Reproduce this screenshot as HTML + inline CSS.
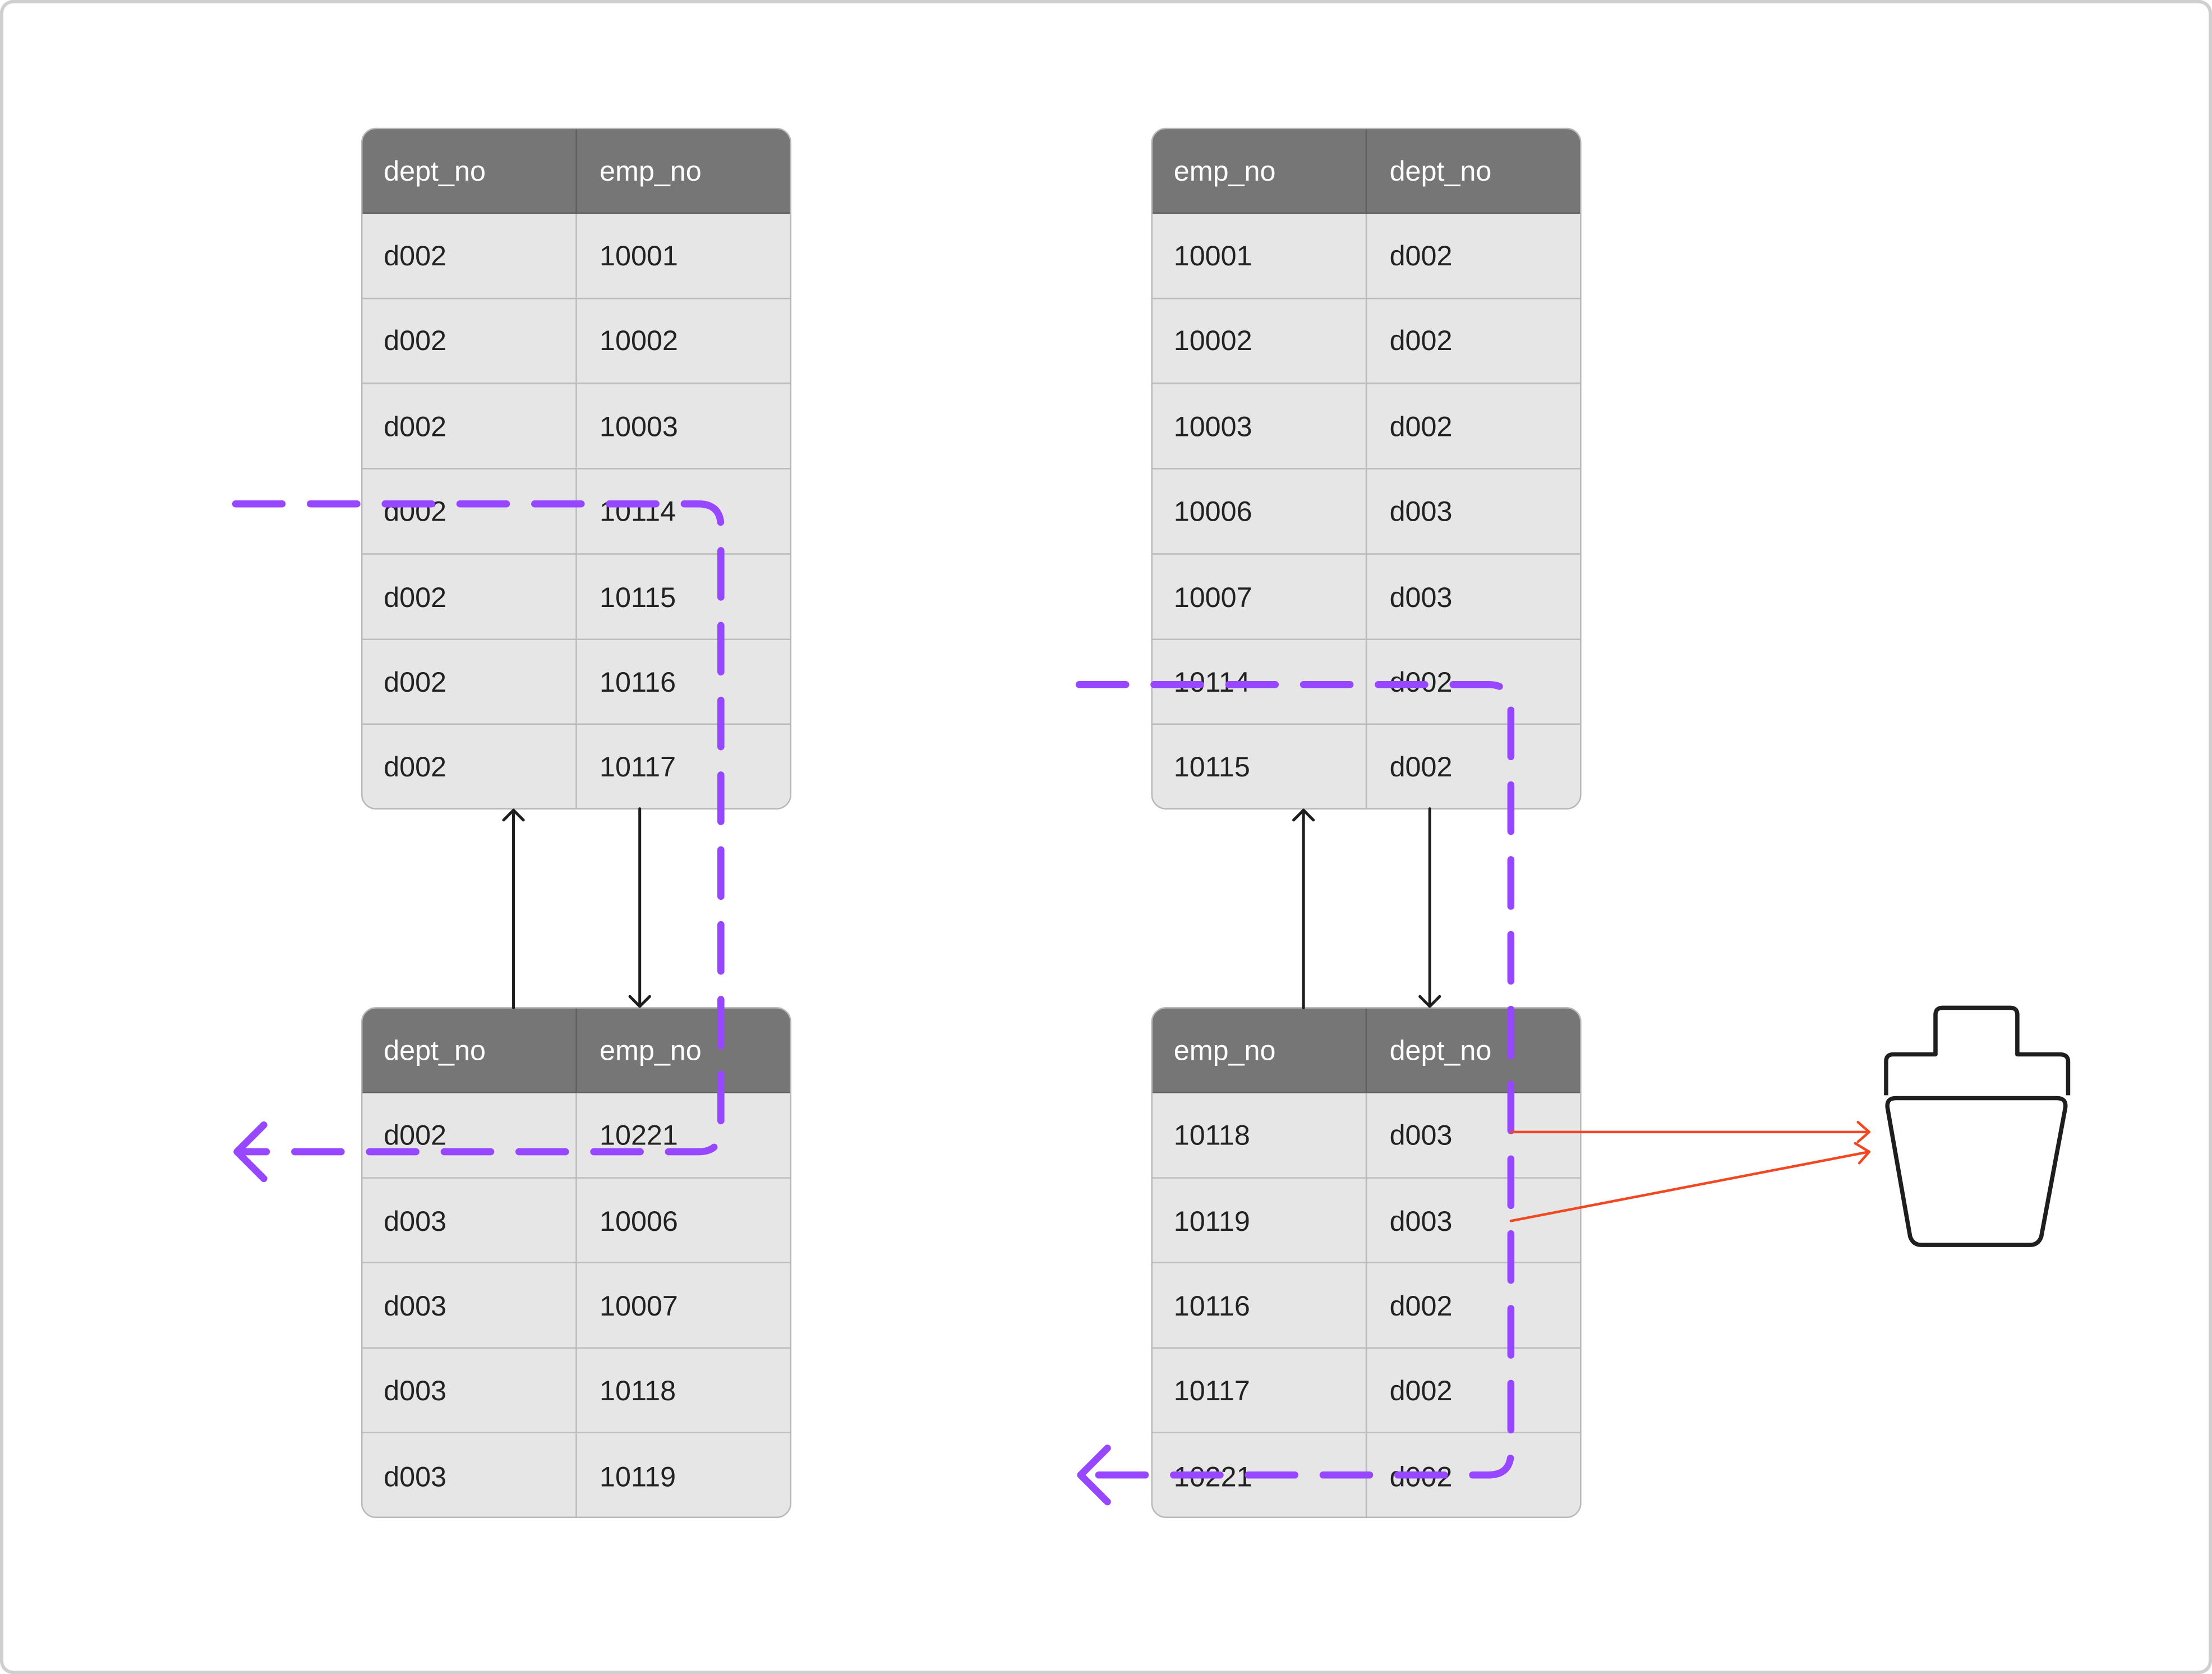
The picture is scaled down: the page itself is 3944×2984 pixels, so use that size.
<!DOCTYPE html>
<html><head><meta charset="utf-8"><style>
html,body{margin:0;padding:0;background:#fff;}
svg{display:block;}
text{font-family:"Liberation Sans",sans-serif;font-size:20px;}
</style></head><body>
<svg width="3944" height="2984" viewBox="0 0 1568 1186" preserveAspectRatio="none" xmlns="http://www.w3.org/2000/svg">
<rect x="1.2" y="1.2" width="1565.6" height="1183.6" rx="8" fill="#fff" stroke="#cfcfcf" stroke-width="2.4"/>
<defs>
<clipPath id="cA"><rect x="256.5" y="91" width="304" height="482" rx="10"/></clipPath>
<clipPath id="cB"><rect x="256.5" y="714" width="304" height="361" rx="10"/></clipPath>
<clipPath id="cC"><rect x="816.5" y="91" width="304" height="482" rx="10"/></clipPath>
<clipPath id="cD"><rect x="816.5" y="714" width="304" height="361" rx="10"/></clipPath>
</defs>

<!-- Table A -->
<g clip-path="url(#cA)">
<rect x="256.5" y="91" width="304" height="482" fill="#e6e6e6"/>
<rect x="256.5" y="91" width="304" height="60" fill="#767676"/>
<g stroke="#bcbcbc" stroke-width="1">
<line x1="256" y1="211.5" x2="561" y2="211.5"/><line x1="256" y1="271.5" x2="561" y2="271.5"/>
<line x1="256" y1="332" x2="561" y2="332"/><line x1="256" y1="392.5" x2="561" y2="392.5"/>
<line x1="256" y1="453" x2="561" y2="453"/><line x1="256" y1="513" x2="561" y2="513"/>
<line x1="408.5" y1="151" x2="408.5" y2="573"/>
</g>
<line x1="408.5" y1="91" x2="408.5" y2="151" stroke="#5e5e5e" stroke-width="1"/>
<line x1="256" y1="151" x2="561" y2="151" stroke="#5e5e5e" stroke-width="1"/>
</g>
<rect x="256.5" y="91" width="304" height="482" rx="10" fill="none" stroke="#b8b8b8" stroke-width="1"/>
<g fill="#fff"><text x="272" y="128">dept_no</text><text x="425" y="128">emp_no</text></g>
<g fill="#222">
<text x="272" y="188">d002</text><text x="425" y="188">10001</text>
<text x="272" y="248">d002</text><text x="425" y="248">10002</text>
<text x="272" y="309">d002</text><text x="425" y="309">10003</text>
<text x="272" y="369">d002</text><text x="425" y="369">10114</text>
<text x="272" y="430">d002</text><text x="425" y="430">10115</text>
<text x="272" y="490">d002</text><text x="425" y="490">10116</text>
<text x="272" y="550">d002</text><text x="425" y="550">10117</text>
</g>

<!-- Table B -->
<g clip-path="url(#cB)">
<rect x="256.5" y="714" width="304" height="361" fill="#e6e6e6"/>
<rect x="256.5" y="714" width="304" height="60" fill="#767676"/>
<g stroke="#bcbcbc" stroke-width="1">
<line x1="256" y1="834.5" x2="561" y2="834.5"/><line x1="256" y1="894.5" x2="561" y2="894.5"/>
<line x1="256" y1="955" x2="561" y2="955"/><line x1="256" y1="1015" x2="561" y2="1015"/>
<line x1="408.5" y1="774" x2="408.5" y2="1075"/>
</g>
<line x1="408.5" y1="714" x2="408.5" y2="774" stroke="#5e5e5e" stroke-width="1"/>
<line x1="256" y1="774" x2="561" y2="774" stroke="#5e5e5e" stroke-width="1"/>
</g>
<rect x="256.5" y="714" width="304" height="361" rx="10" fill="none" stroke="#b8b8b8" stroke-width="1"/>
<g fill="#fff"><text x="272" y="751">dept_no</text><text x="425" y="751">emp_no</text></g>
<g fill="#222">
<text x="272" y="811">d002</text><text x="425" y="811">10221</text>
<text x="272" y="872">d003</text><text x="425" y="872">10006</text>
<text x="272" y="932">d003</text><text x="425" y="932">10007</text>
<text x="272" y="992">d003</text><text x="425" y="992">10118</text>
<text x="272" y="1053">d003</text><text x="425" y="1053">10119</text>
</g>

<!-- Table C -->
<g clip-path="url(#cC)">
<rect x="816.5" y="91" width="304" height="482" fill="#e6e6e6"/>
<rect x="816.5" y="91" width="304" height="60" fill="#767676"/>
<g stroke="#bcbcbc" stroke-width="1">
<line x1="816" y1="211.5" x2="1121" y2="211.5"/><line x1="816" y1="271.5" x2="1121" y2="271.5"/>
<line x1="816" y1="332" x2="1121" y2="332"/><line x1="816" y1="392.5" x2="1121" y2="392.5"/>
<line x1="816" y1="453" x2="1121" y2="453"/><line x1="816" y1="513" x2="1121" y2="513"/>
<line x1="968.5" y1="151" x2="968.5" y2="573"/>
</g>
<line x1="968.5" y1="91" x2="968.5" y2="151" stroke="#5e5e5e" stroke-width="1"/>
<line x1="816" y1="151" x2="1121" y2="151" stroke="#5e5e5e" stroke-width="1"/>
</g>
<rect x="816.5" y="91" width="304" height="482" rx="10" fill="none" stroke="#b8b8b8" stroke-width="1"/>
<g fill="#fff"><text x="832" y="128">emp_no</text><text x="985" y="128">dept_no</text></g>
<g fill="#222">
<text x="832" y="188">10001</text><text x="985" y="188">d002</text>
<text x="832" y="248">10002</text><text x="985" y="248">d002</text>
<text x="832" y="309">10003</text><text x="985" y="309">d002</text>
<text x="832" y="369">10006</text><text x="985" y="369">d003</text>
<text x="832" y="430">10007</text><text x="985" y="430">d003</text>
<text x="832" y="490">10114</text><text x="985" y="490">d002</text>
<text x="832" y="550">10115</text><text x="985" y="550">d002</text>
</g>

<!-- Table D -->
<g clip-path="url(#cD)">
<rect x="816.5" y="714" width="304" height="361" fill="#e6e6e6"/>
<rect x="816.5" y="714" width="304" height="60" fill="#767676"/>
<g stroke="#bcbcbc" stroke-width="1">
<line x1="816" y1="834.5" x2="1121" y2="834.5"/><line x1="816" y1="894.5" x2="1121" y2="894.5"/>
<line x1="816" y1="955" x2="1121" y2="955"/><line x1="816" y1="1015" x2="1121" y2="1015"/>
<line x1="968.5" y1="774" x2="968.5" y2="1075"/>
</g>
<line x1="968.5" y1="714" x2="968.5" y2="774" stroke="#5e5e5e" stroke-width="1"/>
<line x1="816" y1="774" x2="1121" y2="774" stroke="#5e5e5e" stroke-width="1"/>
</g>
<rect x="816.5" y="714" width="304" height="361" rx="10" fill="none" stroke="#b8b8b8" stroke-width="1"/>
<g fill="#fff"><text x="832" y="751">emp_no</text><text x="985" y="751">dept_no</text></g>
<g fill="#222">
<text x="832" y="811">10118</text><text x="985" y="811">d003</text>
<text x="832" y="872">10119</text><text x="985" y="872">d003</text>
<text x="832" y="932">10116</text><text x="985" y="932">d002</text>
<text x="832" y="992">10117</text><text x="985" y="992">d002</text>
<text x="832" y="1053">10221</text><text x="985" y="1053">d002</text>
</g>

<!-- black connectors -->
<g stroke="#1e1e1e" stroke-width="2" fill="none" stroke-linecap="round" stroke-linejoin="round">
<line x1="364" y1="714" x2="364" y2="574"/><polyline points="357,581 364,574 371,581"/>
<line x1="453.5" y1="573" x2="453.5" y2="713"/><polyline points="446.5,706 453.5,713 460.5,706"/>
<line x1="924" y1="714" x2="924" y2="574"/><polyline points="917,581 924,574 931,581"/>
<line x1="1013.5" y1="573" x2="1013.5" y2="713"/><polyline points="1006.5,706 1013.5,713 1020.5,706"/>
</g>

<!-- purple dashed -->
<g stroke="#9747ff" stroke-width="5" fill="none" stroke-linecap="round" stroke-linejoin="round">
<path d="M167 357 H495 Q511 357 511 373 V800 Q511 816 495 816 H170" stroke-dasharray="33 20"/>
<polyline points="187,797 168,816 187,835"/>
<path d="M765 485 H1055 Q1071 485 1071 501 V1029 Q1071 1045 1055 1045 H768" stroke-dasharray="33 20"/>
<polyline points="785,1026 766,1045 785,1064"/>
</g>

<!-- red connectors -->
<g stroke="#f24822" stroke-width="1.8" fill="none" stroke-linecap="round" stroke-linejoin="round">
<line x1="1071" y1="802" x2="1325" y2="802"/><polyline points="1317,795 1325,802 1317,809"/>
<line x1="1071" y1="865" x2="1325" y2="816"/><polyline points="1315,810 1325,816 1318,824"/>
</g>

<!-- bin icon -->
<g stroke="#1e1e1e" stroke-width="3" fill="none" stroke-linejoin="round">
<path d="M1337 776 V752 Q1337 747 1342 747 H1372 V719 Q1372 714 1377 714 H1425 Q1430 714 1430 719 V747 H1460 Q1466 747 1466 752 V776"/>
<path d="M1344 778 H1458 Q1465 778 1464 785 L1447 876 Q1445 882 1439 882 H1362 Q1356 882 1354 876 L1338 785 Q1337 778 1344 778 Z"/>
</g>
</svg>
</body></html>
